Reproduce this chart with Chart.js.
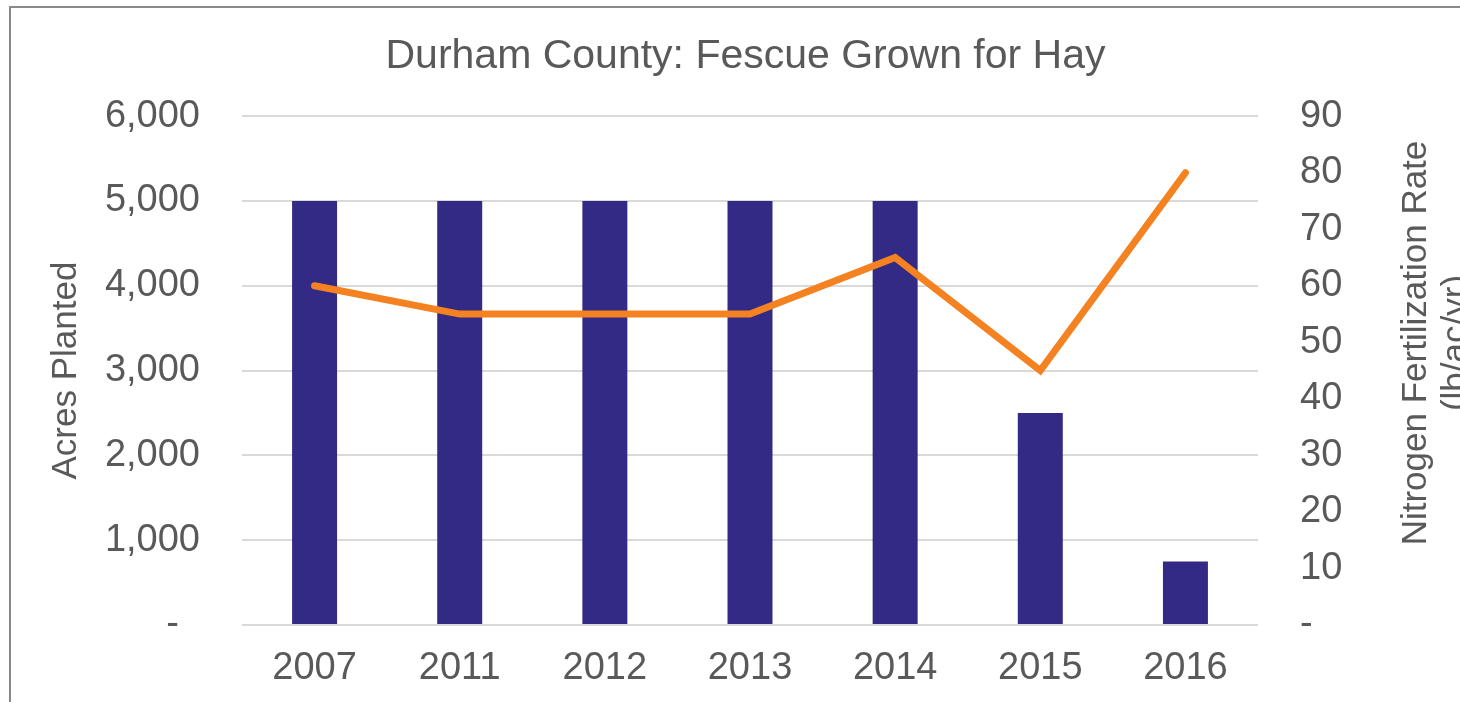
<!DOCTYPE html>
<html>
<head>
<meta charset="utf-8">
<script src="https://cdn.jsdelivr.net/npm/chart.js@4"></script>
<style>
  html, body { margin: 0; padding: 0; background: #fff; overflow: hidden; }
  #frame { position: absolute; left: 9px; top: 6px; width: 1600px; height: 800px;
           border: 2px solid #898989; pointer-events: none; }
  #mycanvas { position: absolute; left: 0; top: 0; }
</style>
</head>
<body>
<canvas id="mycanvas" width="1491" height="702"></canvas>
<div id="frame"></div>
<script>
var years = ["2007", "2011", "2012", "2013", "2014", "2015", "2016"];
var acres = [5000, 5000, 5000, 5000, 5000, 2500, 750];
var nitrogen = [60, 55, 55, 55, 65, 45, 80];
var acresTicks = [0, 1000, 2000, 3000, 4000, 5000, 6000];
var rateTicks = [0, 10, 20, 30, 40, 50, 60, 70, 80, 90];

var txt = "#595959";
var fam = "'Liberation Sans', Arial, sans-serif";

// right axis title reads bottom-to-top, so draw it here
var rightTitle = {
	id: "rightTitle",
	afterDraw: function(chart) {
		var c = chart.ctx;
		c.save();
		c.fillStyle = txt;
		c.font = "35px " + fam;
		c.textAlign = "center";
		c.textBaseline = "alphabetic";
		c.translate(1426, 343);
		c.rotate(-Math.PI / 2);
		c.fillText("Nitrogen Fertilization Rate", 0, 0);
		c.fillText("(lb/ac/yr)", 0, 40);
		c.restore();
	}
};

var ctx = document.getElementById("mycanvas");
var combo = new Chart(ctx, {
	type: "bar",
	data: {
		labels: years,
		datasets: [
			{
				type: "line",
				label: "Nitrogen",
				data: nitrogen,
				yAxisID: "y1",
				borderColor: "#f58220",
				backgroundColor: "#f58220",
				borderWidth: 7,
				borderCapStyle: "round",
				pointRadius: 0,
				tension: 0,
				order: 0
			},
			{
				label: "Acres",
				data: acres,
				yAxisID: "y",
				backgroundColor: "#332a85",
				categoryPercentage: 0.31,
				barPercentage: 1,
				order: 1
			}
		]
	},
	options: {
		responsive: false,
		animation: false,
		layout: { padding: 0 },
		plugins: {
			legend: { display: false },
			tooltip: { enabled: false },
			title: {
				display: true,
				text: "Durham County: Fescue Grown for Hay",
				color: txt,
				font: { family: fam, size: 41, weight: "normal" },
				padding: { top: 32, bottom: 35 }
			}
		},
		scales: {
			x: {
				grid: { display: false, drawTicks: false },
				border: { display: false },
				ticks: { color: txt, font: { family: fam, size: 38 }, padding: 21, maxRotation: 0 },
				afterFit: function(s) { s.height = 77; }
			},
			y: {
				position: "left",
				min: 0, max: 6000,
				afterBuildTicks: function(s) { s.ticks = acresTicks.map(function(v) { return { value: v }; }); },
				ticks: {
					color: txt, font: { family: fam, size: 38 }, padding: 42,
					callback: function(v) { return v === 0 ? "-  " : v.toLocaleString("en-US"); }
				},
				grid: { color: "#d9d9d9", lineWidth: 2, drawTicks: false },
				border: { display: false },
				title: {
					display: true, text: "Acres Planted", color: txt,
					font: { family: fam, size: 35 }, padding: { top: 45, bottom: 0 }
				},
				afterFit: function(s) { s.width = 242; }
			},
			y1: {
				position: "right",
				min: 0, max: 90,
				afterBuildTicks: function(s) { s.ticks = rateTicks.map(function(v) { return { value: v }; }); },
				ticks: {
					color: txt, font: { family: fam, size: 38 }, padding: 42,
					callback: function(v) { return v === 0 ? "-" : String(v); }
				},
				grid: { display: false, drawTicks: false },
				border: { display: false },
				afterFit: function(s) { s.width = 233; }
			}
		}
	},
	plugins: [rightTitle]
});
</script>
</body>
</html>
